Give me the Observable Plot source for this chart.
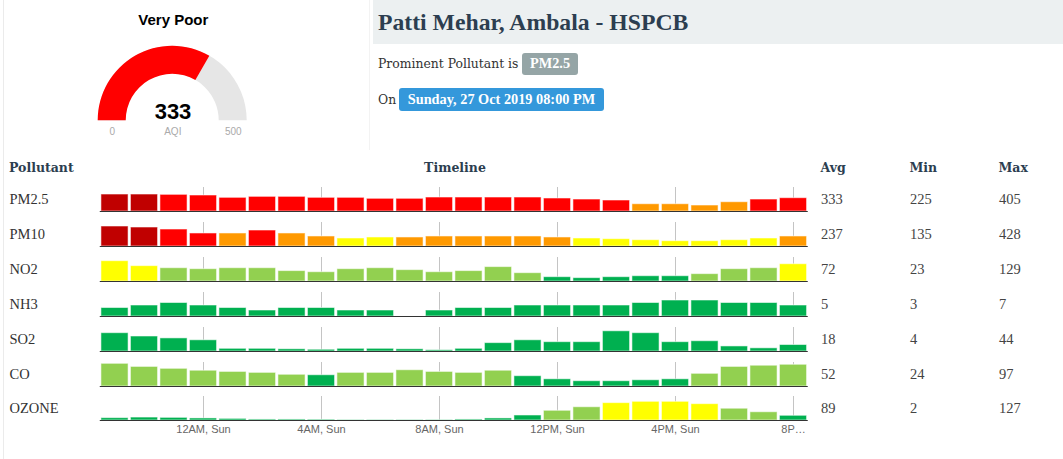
<!DOCTYPE html>
<html>
<head>
<meta charset="utf-8">
<script src="https://cdn.jsdelivr.net/npm/d3@7"></script>
<script src="https://cdn.jsdelivr.net/npm/@observablehq/plot@0.6"></script>
<style>
  html, body { margin: 0; padding: 0; background: #fff; }
  body { width: 1063px; height: 459px; position: relative; overflow: hidden; font-family: "Liberation Serif", serif; }
  .abs { position: absolute; }
  .badge { position: absolute; color: #fff; font-family: "Liberation Serif", serif; font-weight: bold; font-size: 14.3px; text-align: center; border-radius: 3px; white-space: nowrap; }
  svg { overflow: visible; }
</style>
</head>
<body>
<div class="abs" style="left:3px;top:0;width:1px;height:459px;background:#ebebeb"></div>
<div class="abs" style="left:369px;top:0;width:1px;height:150px;background:#f3f3f3"></div>
<div class="abs" style="left:373px;top:0;width:690px;height:44px;background:#ecf0f1"></div>
<div id="gauge" class="abs" style="left:0;top:0"></div>
<div id="rows"></div>
<script>
// ---------------- data ----------------
const stationName = "Patti Mehar, Ambala - HSPCB";
const prominentPollutant = "PM2.5";
const reportTime = "Sunday, 27 Oct 2019 08:00 PM";

const gaugeLabel = "Very Poor";
const gaugeValue = 333;
const gaugeMin = 0;
const gaugeMax = 500;

const headers = ["Pollutant", "Timeline", "Avg", "Min", "Max"];

const hours = ["9PM, Sat","10PM, Sat","11PM, Sat","12AM, Sun","1AM, Sun","2AM, Sun","3AM, Sun","4AM, Sun",
  "5AM, Sun","6AM, Sun","7AM, Sun","8AM, Sun","9AM, Sun","10AM, Sun","11AM, Sun","12PM, Sun",
  "1PM, Sun","2PM, Sun","3PM, Sun","4PM, Sun","5PM, Sun","6PM, Sun","7PM, Sun","8PM, Sun"];
const tickHours = ["12AM, Sun","4AM, Sun","8AM, Sun","12PM, Sun","4PM, Sun","8PM, Sun"];
const tickLabels = ["12AM, Sun","4AM, Sun","8AM, Sun","12PM, Sun","4PM, Sun","8P…"];

const pollutants = ["PM2.5","PM10","NO2","NH3","SO2","CO","OZONE"];
const avgValues = [333, 237, 72, 5, 18, 52, 89];
const minValues = [225, 135, 23, 3, 4, 24, 2];
const maxValues = [405, 428, 129, 7, 44, 97, 127];

// hourly sub-index values (one per hour), and AQI category per bar
// categories: G good, L satisfactory, Y moderate, O poor, R very poor, D severe
const pm25  = [405,405,400,389,351,367,367,351,351,335,335,356,356,356,356,340,323,307,246,246,225,279,323,345];
const pm25Cat  = ["D","D","R","R","R","R","R","R","R","R","R","R","R","R","R","R","R","R","O","O","O","O","R","R"];
const pm10  = [428,408,368,289,289,348,289,229,189,209,209,229,229,229,229,209,189,175,155,135,135,155,189,229];
const pm10Cat  = ["D","D","R","R","O","R","O","O","Y","Y","O","O","O","O","O","O","Y","Y","Y","Y","Y","Y","Y","O"];
const no2   = [129,98,85,79,85,85,67,60,79,85,73,60,67,92,54,29,23,29,35,35,48,79,85,110];
const no2Cat   = ["Y","Y","L","L","L","L","L","L","L","L","L","L","L","L","L","G","G","G","G","G","L","L","L","Y"];
const nh3   = [4,5,6,5,4,3,4,4,3,3,null,3,4,4,5,5,5,5,6,7,7,6,6,5];
const nh3Cat   = ["G","G","G","G","G","G","G","G","G","G","G","G","G","G","G","G","G","G","G","G","G","G","G","G"];
const so2   = [40,33,29,25,7,7,6,5,7,7,6,4,7,19,25,21,21,44,40,21,23,12,8,15];
const so2Cat   = ["G","G","G","G","G","G","G","G","G","G","G","G","G","G","G","G","G","G","G","G","G","G","G","G"];
const co    = [97,84,76,68,63,59,51,49,59,59,70,63,59,68,45,32,24,24,28,32,55,84,89,93];
const coCat    = ["L","L","L","L","L","L","L","G","L","L","L","L","L","L","G","G","G","G","G","G","L","L","L","L"];
const ozone = [16,20,18,14,11,7,7,5,2,2,2,2,7,14,34,66,90,118,127,127,111,80,56,32];
const ozoneCat = ["G","G","G","G","G","G","G","G","G","G","G","G","G","G","G","L","L","Y","Y","Y","Y","L","L","G"];

// per-row value axis (as auto-scaled in the source sparklines)
const rowDomains = [[127, 520], [29, 508], [2, 152], [0.6, 10.2], [1.3, 52], [1.8, 102.5], [0, 163]];

const categories = ["G","L","Y","O","R","D"];
const categoryColors = ["#00b050","#92d050","#ffff00","#ff9900","#ff0000","#c00000"];

// ---------------- helpers ----------------
function label(text, x, baseline, o = {}) {
  const size = o.size || 15, family = o.family || "'Liberation Serif', serif";
  const k = family.includes("DejaVu") ? 0.8365 : (family.includes("Sans") ? 0.8465 : 0.8375);
  const el = document.createElement("div");
  el.textContent = text;
  el.style.position = "absolute";
  el.style.whiteSpace = "nowrap";
  el.style.fontFamily = family;
  el.style.fontSize = size + "px";
  el.style.fontWeight = o.weight || "normal";
  el.style.lineHeight = size + "px";
  el.style.color = o.color || "#333";
  el.style.top = (baseline - k * size) + "px";
  el.style.left = x + "px";
  if (o.anchor === "middle") el.style.transform = "translateX(-50%)";
  document.body.appendChild(el);
  return el;
}
function badge(text, left, top, w, h, bg) {
  const el = document.createElement("div");
  el.className = "badge";
  el.textContent = text;
  Object.assign(el.style, {left: left + "px", top: top + "px", width: w + "px", height: h + "px", lineHeight: (h - 1) + "px", background: bg});
  document.body.appendChild(el);
}

// ---------------- header texts ----------------
const dejavu = "'DejaVu Serif', serif";
label(stationName, 378, 30.7, {size: 23.7, weight: "bold", color: "#2c3e50"});
label("Prominent Pollutant is", 378, 68.5, {size: 12.4, family: dejavu, color: "#333"});
badge(prominentPollutant, 522, 53, 56, 22, "#95a5a6");
label("On", 378, 104, {size: 12.4, family: dejavu, color: "#333"});
badge(reportTime, 399, 88, 205, 23, "#3498db");

const hdrStyle = {size: 12.5, weight: "bold", color: "#2c3e50", family: dejavu};
label(headers[0], 9, 172, hdrStyle);
label(headers[1], 455, 172, {...hdrStyle, anchor: "middle"});
label(headers[2], 820.5, 172, hdrStyle);
label(headers[3], 909.5, 172, hdrStyle);
label(headers[4], 998.5, 172, hdrStyle);

// ---------------- gauge ----------------
function gaugeArcs() {
  const angle = d3.scaleLinear([gaugeMin, gaugeMax], [-Math.PI / 2, Math.PI / 2]);
  const arc = d3.arc().innerRadius(46.5).outerRadius(74.5);
  const g = d3.create("svg:g").attr("transform", "translate(172.2,120.3)");
  g.append("path").attr("d", arc({startAngle: angle(gaugeMin), endAngle: angle(gaugeMax)})).attr("fill", "#e6e6e6");
  g.append("path").attr("d", arc({startAngle: angle(gaugeMin), endAngle: angle(gaugeValue)})).attr("fill", "#ff0000");
  return g.node();
}
const sans = "Liberation Sans, Arial, sans-serif";
const gtext = {frameAnchor: "top-left", textAnchor: "middle", lineAnchor: "bottom", fontFamily: sans};
const gauge = Plot.plot({
  width: 370, height: 150, margin: 0,
  marks: [
    gaugeArcs,
    Plot.text([gaugeLabel], {...gtext, text: d => d, dx: 172.8, dy: 24.3, fontWeight: "bold", fontSize: 15, fill: "#000"}),
    Plot.text([gaugeValue], {...gtext, text: d => String(d), dx: 172.5, dy: 118.3, fontWeight: "bold", fontSize: 22, fill: "#000"}),
    Plot.text([String(gaugeMin)], {...gtext, text: d => d, dx: 111.7, dy: 134, fontSize: 10, fill: "#aaa"}),
    Plot.text(["AQI"], {...gtext, text: d => d, dx: 172.3, dy: 134, fontSize: 10, fill: "#aaa"}),
    Plot.text([String(gaugeMax)], {...gtext, text: d => d, dx: 232.8, dy: 134, fontSize: 10, fill: "#aaa"})
  ]
});
document.getElementById("gauge").appendChild(gauge);

// ---------------- pollutant rows ----------------
const series = [pm25, pm10, no2, nh3, so2, co, ozone];
const seriesCats = [pm25Cat, pm10Cat, no2Cat, nh3Cat, so2Cat, coCat, ozoneCat];
const mLeft = 99.75, mRight = 255.25;
const firstBaseline = 211, rowStep = 34.9;
const serif = "Liberation Serif, serif";

pollutants.forEach((name, r) => {
  const isLast = r === pollutants.length - 1;
  const dom = rowDomains[r];
  const table = hours.map((h, i) => ({hour: h, value: series[r][i], cat: seriesCats[r][i]}));
  const statText = {frameAnchor: "bottom-right", dy: -8, lineAnchor: "bottom", textAnchor: "start", fontFamily: serif, fontSize: 14.5, fill: "#444"};
  const marks = [
    Plot.ruleX(tickHours, {x: d => d, stroke: "#c4c4c4"}),
    Plot.barY(table.filter(d => d.value != null), {x: "hour", y1: dom[0], y2: "value", fill: "cat", stroke: "#fff", strokeOpacity: 0.55, strokeWidth: 1}),
    Plot.ruleY([dom[0]], {stroke: "#333"}),
    Plot.text([name], {text: d => d, frameAnchor: "bottom-left", dx: 9 - mLeft, dy: -8, lineAnchor: "bottom", textAnchor: "start", fontFamily: serif, fontSize: 14.5, fill: "#333"}),
    Plot.text([avgValues[r]], {...statText, text: d => String(d), dx: 820.5 - (1063 - mRight)}),
    Plot.text([minValues[r]], {...statText, text: d => String(d), dx: 909.5 - (1063 - mRight)}),
    Plot.text([maxValues[r]], {...statText, text: d => String(d), dx: 998.5 - (1063 - mRight)})
  ];
  if (isLast) {
    marks.push(Plot.text(tickHours, {x: d => d, text: (d, i) => tickLabels[i], frameAnchor: "bottom", textAnchor: "middle", dy: 12.7, lineAnchor: "bottom", fontFamily: sans, fontSize: 11, fill: "#666"}));
  }
  const chart = Plot.plot({
    width: 1063,
    height: isLast ? 52 : 32,
    marginLeft: mLeft, marginRight: mRight, marginTop: 6, marginBottom: isLast ? 22 : 2,
    x: {type: "band", domain: hours, paddingInner: 0.08, paddingOuter: 0.04, round: false, axis: null},
    y: {domain: dom, axis: null},
    color: {domain: categories, range: categoryColors},
    marks
  });
  const wrap = document.createElement("div");
  wrap.className = "abs";
  wrap.style.left = "0px";
  wrap.style.top = Math.round(firstBaseline + r * rowStep - 30) + "px";
  wrap.appendChild(chart);
  document.getElementById("rows").appendChild(wrap);
});
</script>
</body>
</html>
